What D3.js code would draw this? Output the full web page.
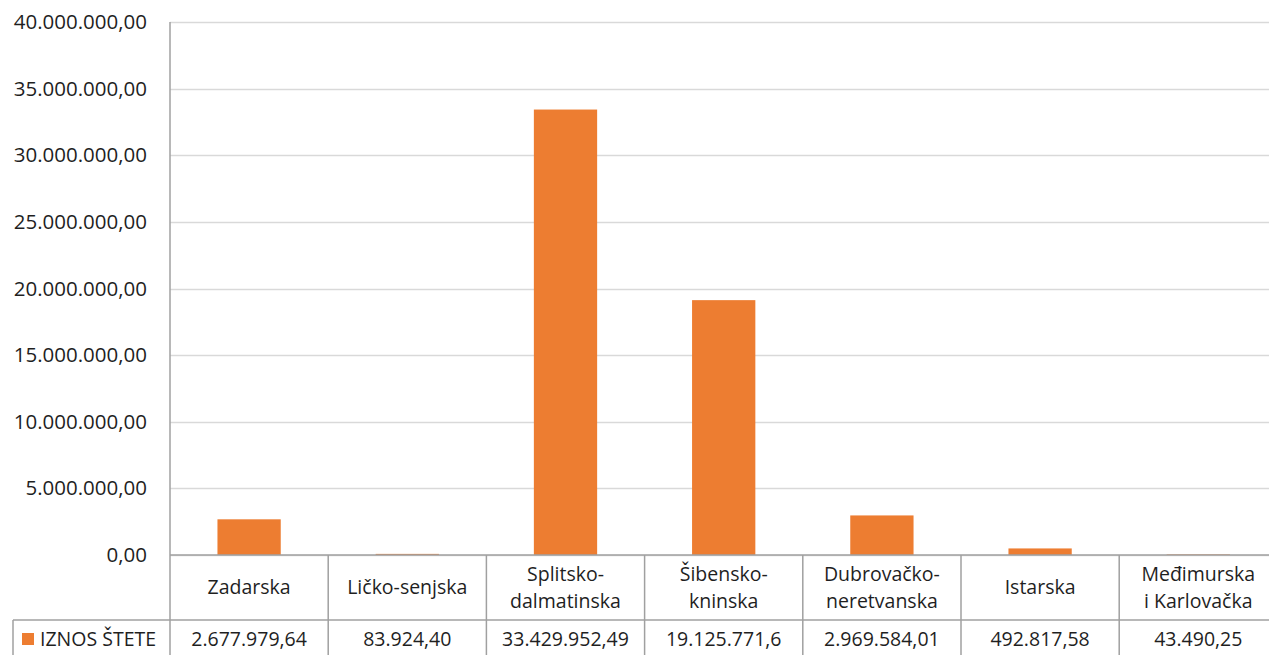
<!DOCTYPE html>
<html>
<head>
<meta charset="utf-8">
<script src="https://cdn.jsdelivr.net/npm/d3@7"></script>
<style>
  body { margin: 0; background: #fff; }
  svg { display: block; font-family: 'Open Sans', 'Noto Sans', sans-serif; }
  .tick-label { fill: #1f1f1f; font-size: 20.5px; }
  .cell { fill: #1f1f1f; font-size: 19.5px; }
</style>
</head>
<body>
<svg id="chart" width="1269" height="655"></svg>
<script>
const categories = [
  ['Zadarska'],
  ['Ličko-senjska'],
  ['Splitsko-', 'dalmatinska'],
  ['Šibensko-', 'kninska'],
  ['Dubrovačko-', 'neretvanska'],
  ['Istarska'],
  ['Međimurska', 'i Karlovačka']
];
const values = [2677979.64, 83924.40, 33429952.49, 19125771.6, 2969584.01, 492817.58, 43490.25];
const valueLabels = ['2.677.979,64', '83.924,40', '33.429.952,49', '19.125.771,6', '2.969.584,01', '492.817,58', '43.490,25'];
const yTicks = [0, 5e6, 10e6, 15e6, 20e6, 25e6, 30e6, 35e6, 40e6];
const seriesName = 'IZNOS ŠTETE';

const hr = d3.formatLocale({ decimal: ',', thousands: '.', grouping: [3], currency: ['', ''] });
const fmt = hr.format(',.2f');

const plotLeft = 170, plotTop = 22, zeroY = 555, step = 158.2;
const rowY = 620, tableBottom = 655;
const keys = categories.map((c, i) => i);

const svg = d3.select('#chart');

const x = d3.scaleBand()
  .domain(keys)
  .range([plotLeft, plotLeft + step * keys.length])
  .paddingInner(0.6)
  .paddingOuter(0.3);

const y = d3.scaleLinear().domain([0, 40e6]).range([zeroY, plotTop]);

// gridlines
svg.append('g')
  .selectAll('line')
  .data(yTicks)
  .join('line')
  .attr('x1', plotLeft).attr('x2', 1269)
  .attr('y1', d => Math.round(y(d)) + 0.5).attr('y2', d => Math.round(y(d)) + 0.5)
  .attr('stroke', '#d9d9d9').attr('stroke-width', 1.5);

// y axis labels
const yAxis = svg.append('g')
  .attr('transform', `translate(${plotLeft},0)`)
  .call(d3.axisLeft(y).tickValues(yTicks).tickFormat(fmt).tickSize(0).tickPadding(23));
yAxis.select('.domain').remove();
yAxis.attr('font-family', null).attr('font-size', null);
yAxis.selectAll('text').attr('class', 'tick-label').attr('fill', null);

// bars
svg.append('g')
  .selectAll('rect')
  .data(values)
  .join('rect')
  .attr('x', (d, i) => x(i))
  .attr('width', x.bandwidth())
  .attr('y', d => y(d))
  .attr('height', d => y(0) - y(d))
  .attr('fill', '#ed7d31');

// data table
const tbl = svg.append('g').attr('stroke', '#a0a0a0').attr('stroke-width', 1.5);
tbl.append('line').attr('x1', plotLeft).attr('x2', 1269).attr('y1', zeroY).attr('y2', zeroY);
tbl.append('line').attr('x1', 13).attr('x2', 1269).attr('y1', rowY).attr('y2', rowY);
tbl.append('line').attr('x1', 13).attr('x2', 13).attr('y1', rowY).attr('y2', tableBottom);
tbl.append('line').attr('x1', plotLeft).attr('x2', plotLeft).attr('y1', plotTop).attr('y2', tableBottom);
tbl.selectAll('line.div')
  .data(keys.slice(1))
  .join('line')
  .attr('class', 'div')
  .attr('x1', i => x(i) - x.step() * x.paddingInner() / 2)
  .attr('x2', i => x(i) - x.step() * x.paddingInner() / 2)
  .attr('y1', zeroY).attr('y2', tableBottom);

const center = i => x(i) + x.bandwidth() / 2;

const head = svg.append('g');
head.selectAll('text')
  .data(categories)
  .join('text')
  .attr('class', 'cell')
  .attr('text-anchor', 'middle')
  .each(function (lines, i) {
    const t = d3.select(this);
    const mid = (zeroY + rowY) / 2;
    lines.forEach((ln, j) => {
      t.append('tspan')
        .attr('x', center(i))
        .attr('y', mid + (j - (lines.length - 1) / 2) * 27)
        .attr('dy', '0.35em')
        .text(ln);
    });
  });

svg.append('g')
  .selectAll('text')
  .data(valueLabels)
  .join('text')
  .attr('class', 'cell')
  .attr('text-anchor', 'middle')
  .attr('x', (d, i) => center(i))
  .attr('y', (rowY + tableBottom) / 2 + 2)
  .attr('dy', '0.35em')
  .text(d => d);

// legend key
svg.append('rect')
  .attr('x', 22).attr('y', 633).attr('width', 12).attr('height', 12)
  .attr('fill', '#ed7d31');
svg.append('text')
  .attr('class', 'cell')
  .attr('x', 40).attr('y', (rowY + tableBottom) / 2 + 2)
  .attr('dy', '0.35em')
  .text(seriesName);
</script>
</body>
</html>
